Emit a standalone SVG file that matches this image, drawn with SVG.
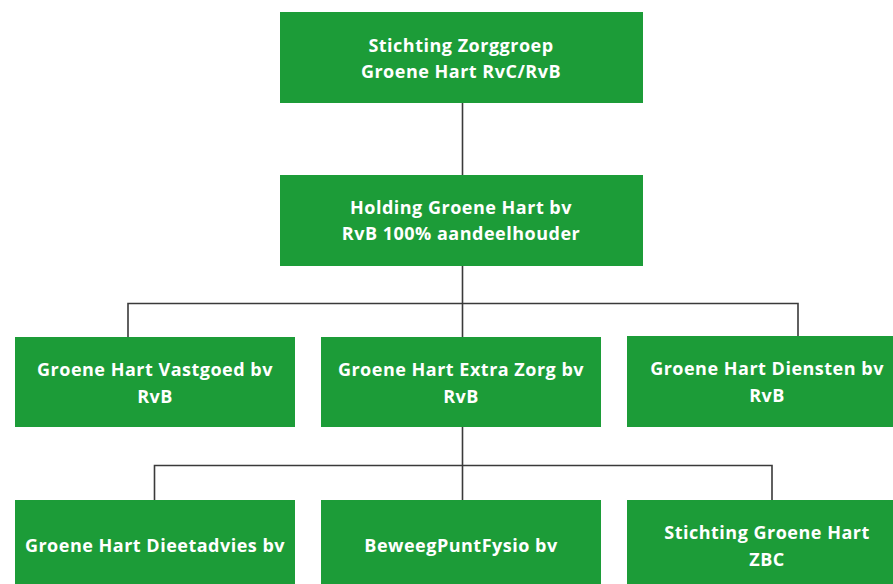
<svg xmlns="http://www.w3.org/2000/svg" width="893" height="584" viewBox="0 0 893 584">
<style>
.box{fill:#1c9c38}
.t{font-family:"Open Sans","Liberation Sans",sans-serif;font-weight:bold;font-size:18px;letter-spacing:0.5px;fill:#ffffff;text-anchor:middle}
.c{stroke:#3a3a3a;stroke-width:1.6;fill:none}
</style>
<rect width="893" height="584" fill="#ffffff"/>
<g id="connectors">
<path class="c" d="M462.5 102 V175"/>
<path class="c" d="M462.5 265 V338 M128 338 V303.5 H798 V338"/>
<path class="c" d="M462.5 427 V500 M154.5 500 V465.5 H772 V500"/>
</g>
<g id="n1"><rect class="box" x="280" y="12" width="363" height="91"/>
<text class="t" x="461" y="51.5">Stichting Zorggroep</text>
<text class="t" x="461" y="78">Groene Hart RvC/RvB</text></g>
<g id="n2"><rect class="box" x="280" y="175" width="363" height="91"/>
<text class="t" x="461" y="214">Holding Groene Hart bv</text>
<text class="t" x="461" y="240">RvB 100% aandeelhouder</text></g>
<g id="n3"><rect class="box" x="15" y="337" width="280" height="90"/>
<text class="t" x="155" y="376">Groene Hart Vastgoed bv</text>
<text class="t" x="155" y="402.5">RvB</text></g>
<g id="n4"><rect class="box" x="321" y="337" width="280" height="90"/>
<text class="t" x="461" y="376">Groene Hart Extra Zorg bv</text>
<text class="t" x="461" y="402.5">RvB</text></g>
<g id="n5"><rect class="box" x="627" y="336" width="280" height="91"/>
<text class="t" x="767" y="375">Groene Hart Diensten bv</text>
<text class="t" x="767" y="401.5">RvB</text></g>
<g id="n6"><rect class="box" x="15" y="500" width="280" height="90"/>
<text class="t" x="155" y="551.5">Groene Hart Dieetadvies bv</text></g>
<g id="n7"><rect class="box" x="321" y="500" width="280" height="90"/>
<text class="t" x="461" y="551.5">BeweegPuntFysio bv</text></g>
<g id="n8"><rect class="box" x="627" y="500" width="280" height="90"/>
<text class="t" x="767" y="539">Stichting Groene Hart</text>
<text class="t" x="767" y="565.5">ZBC</text></g>
</svg>
